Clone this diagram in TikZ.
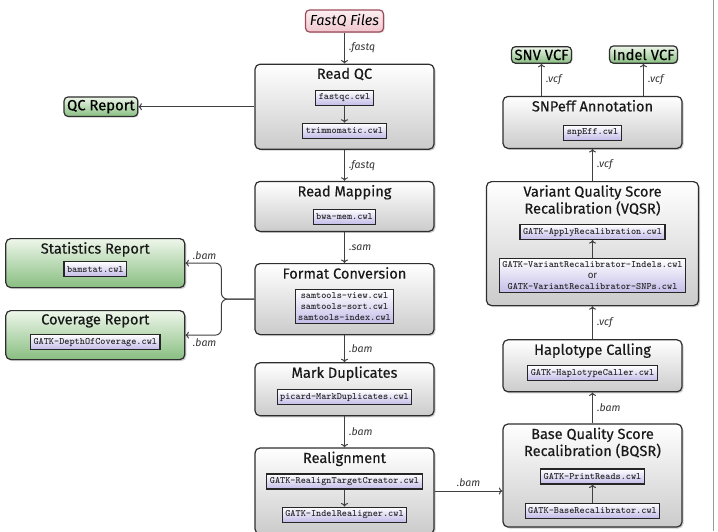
\documentclass[tikz,border=0pt]{standalone}
\usepackage{fontspec}
\setmainfont{Fira Sans}
\newfontfamily\headfont{Fira Sans}[FakeBold=0.3]
\usepackage{tikz}
\usetikzlibrary{positioning,shadows,arrows.meta}

\definecolor{stagebot}{HTML}{CBCBCB}
\definecolor{toolbot}{HTML}{C3BCE8}
\definecolor{greentop}{HTML}{EEF6EA}
\definecolor{greenbot}{HTML}{88BE81}
\definecolor{pinktop}{HTML}{FCF0F2}
\definecolor{pinkbot}{HTML}{F0C6CD}
\definecolor{pinkline}{HTML}{9C4A5A}

\tikzset{
  stage/.style={draw=black!82, line width=1.2pt, rounded corners=5pt,
    minimum width=179pt, minimum height=#1, top color=white, bottom color=stagebot,
    drop shadow={shadow xshift=1.5pt, shadow yshift=-1.5pt, opacity=0.4}},
  stage/.default=52pt,
  greenstage/.style={stage=#1, top color=greentop, bottom color=greenbot},
  greenstage/.default=49pt,
  report/.style={draw=black!82, line width=1.2pt, rounded corners=4pt, inner sep=3pt,
    top color=greentop, bottom color=greenbot, font=\headfont\fontsize{14.8}{17}\selectfont,
    drop shadow={shadow xshift=1pt, shadow yshift=-1pt, opacity=0.3}},
  source/.style={draw=pinkline, line width=1.2pt, rounded corners=4pt, inner sep=3pt,
    top color=pinktop, bottom color=pinkbot, font=\itshape\fontsize{14.5}{17}\selectfont,
    minimum width=78pt, minimum height=22pt,
    drop shadow={shadow xshift=1pt, shadow yshift=-1pt, opacity=0.3}},
  title/.style={font=\headfont\fontsize{14.6}{17}\selectfont, align=center, inner sep=1pt, text=black!90},
  tool/.style={draw=black!85, line width=1.1pt, top color=white, bottom color=toolbot,
    font=\ttfamily\bfseries\fontsize{9.8}{11}\selectfont, minimum height=15pt, inner sep=3pt,
    align=center, text=black!85},
  flow/.style={-{To[length=3.5pt,width=7pt]}, draw=black!75, line width=1pt},
  ext/.style={font=\itshape\fontsize{10.5}{12}\selectfont, text=black!80, inner sep=4pt}
}

\begin{document}
\begin{tikzpicture}[x=1pt,y=-1pt]
  \useasboundingbox (0,0) rectangle (718,531);

  % left column
  \node[source] (fq) at (344.5,21) {FastQ Files};

  \node[stage=85pt, below=31pt of fq] (rqc) {};
  \node[title, below=3pt of rqc.north] (rqct) {Read QC};
  \node[tool, below=26pt of rqc.north] (fqc) {fastqc.cwl};
  \node[tool, below=17pt of fqc] (trim) {trimmomatic.cwl};

  \node[stage=50pt, below=31pt of rqc] (rmap) {};
  \node[title, below=3pt of rmap.north] (rmapt) {Read Mapping};
  \node[tool, below=28pt of rmap.north] (bwa) {bwa-mem.cwl};

  \node[stage=71pt, below=31pt of rmap] (fconv) {};
  \node[title, below=3pt of fconv.north] (fconvt) {Format Conversion};
  \node[tool, below=26pt of fconv.north] (stools) {samtools-view.cwl\\samtools-sort.cwl\\samtools-index.cwl};

  \node[stage=53pt, below=27pt of fconv] (mdup) {};
  \node[title, below=3pt of mdup.north] (mdupt) {Mark Duplicates};
  \node[tool, below=27pt of mdup.north] (picard) {picard-MarkDuplicates.cwl};

  \node[stage=86pt, below=31pt of mdup] (realn) {};
  \node[title, below=3pt of realn.north] (realnt) {Realignment};
  \node[tool, below=26pt of realn.north] (rtc) {GATK-RealignTargetCreator.cwl};
  \node[tool, below=17pt of rtc] (indr) {GATK-IndelRealigner.cwl};

  % reports
  \node[report, left=116pt of rqc] (qcr) {QC Report};

  \node[greenstage, left=69pt of fconv, yshift=36pt] (stat) {};
  \node[title, below=3pt of stat.north] (statt) {Statistics Report};
  \node[tool, below=23pt of stat.north] (bstat) {bamstat.cwl};

  \node[greenstage, left=69pt of fconv, yshift=-36pt] (cov) {};
  \node[title, below=3pt of cov.north] (covt) {Coverage Report};
  \node[tool, below=24pt of cov.north] (doc) {GATK-DepthOfCoverage.cwl};

  % right column
  \node[stage=103pt] (bqsr) at (592.5,475.5) {};
  \node[title, below=3pt of bqsr.north] (bqsrt) {Base Quality Score\\Recalibration (BQSR)};
  \node[tool, below=45pt of bqsr.north] (prd) {GATK-PrintReads.cwl};
  \node[tool, below=18pt of prd] (brec) {GATK-BaseRecalibrator.cwl};

  \node[stage=52pt, above=31pt of bqsr] (hapc) {};
  \node[title, below=3pt of hapc.north] (hapct) {Haplotype Calling};
  \node[tool, below=26pt of hapc.north] (hcal) {GATK-HaplotypeCaller.cwl};

  \node[stage=124pt, minimum width=212pt, above=33pt of hapc] (vqsr) {};
  \node[title, below=3pt of vqsr.north] (vqsrt) {Variant Quality Score\\Recalibration (VQSR)};
  \node[tool, below=43pt of vqsr.north] (apply) {GATK-ApplyRecalibration.cwl};
  \node[tool, below=18pt of apply] (vrec) {GATK-VariantRecalibrator-Indels.cwl\\{\rmfamily\mdseries or}\\GATK-VariantRecalibrator-SNPs.cwl};

  \node[stage=52pt, above=32pt of vqsr] (snpe) {};
  \node[title, below=3pt of snpe.north] (snpet) {SNPeff Annotation};
  \node[tool, below=29pt of snpe.north] (seff) {snpEff.cwl};

  \node[report, above=32pt of snpe, xshift=-51pt] (snv) {SNV VCF};
  \node[report, above=32pt of snpe, xshift=51pt] (indel) {Indel VCF};

  % connectors
  \draw[flow] (fq) -- node[ext, right] {.fastq} (rqc);
  \draw[flow] (fqc) -- (trim);
  \draw[flow] (rqc) -- node[ext, right] {.fastq} (rmap);
  \draw[flow] (rmap) -- node[ext, right] {.sam} (fconv);
  \draw[flow] (fconv) -- node[ext, right] {.bam} (mdup);
  \draw[flow] (mdup) -- node[ext, right] {.bam} (realn);
  \draw[flow] (rtc) -- (indr);
  \draw[flow] (rqc) -- (qcr);

  \path (fconv.west) -- ++(-33pt,0) coordinate (split);
  \draw[flow, rounded corners=6pt] (fconv.west) -- (split) -- (split |- stat.east)
    -- node[ext, pos=1, anchor=south west, xshift=3pt, yshift=-1pt] {.bam} (stat.east);
  \draw[flow, rounded corners=6pt] (fconv.west) -- (split) -- (split |- cov.east)
    -- node[ext, pos=1, anchor=north west, xshift=3pt, yshift=1pt] {.bam} (cov.east);

  \draw[flow] (realn.east) -- node[ext, above] {.bam} (realn.east -| bqsr.west);
  \draw[flow] (brec) -- (prd);
  \draw[flow] (bqsr) -- node[ext, right] {.bam} (hapc);
  \draw[flow] (hapc) -- node[ext, right] {.vcf} (vqsr);
  \draw[flow] (vrec) -- (apply);
  \draw[flow] (vqsr) -- node[ext, right] {.vcf} (snpe);
  \draw[flow] (snpe.north -| snv) -- node[ext, right] {.vcf} (snv);
  \draw[flow] (snpe.north -| indel) -- node[ext, right] {.vcf} (indel);

  % frame edge
  \draw[black!40, line width=0.8pt] (713,0) -- (713,531);
\end{tikzpicture}
\end{document}
